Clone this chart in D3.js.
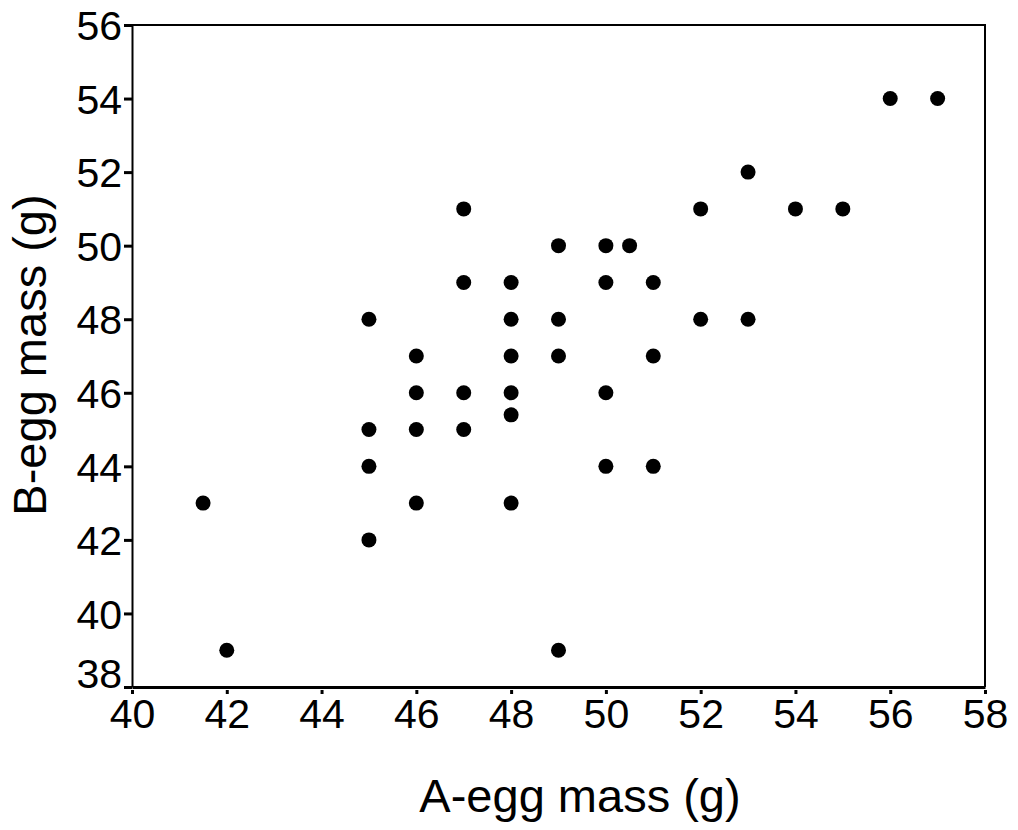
<!DOCTYPE html>
<html>
<head>
<meta charset="utf-8">
<script src="https://cdn.jsdelivr.net/npm/d3@7"></script>
<style>
  body { margin: 0; background: #fff; }
  text { font-family: "Liberation Sans", Arial, sans-serif; fill: #000; }
</style>
</head>
<body>
<div class="container"></div>
<script>
// data
const aMass = [41.5, 42, 45, 45, 45, 45, 46, 46, 46, 46,
               47, 47, 47, 47, 48, 48, 48, 48, 48, 48,
               49, 49, 49, 49, 50, 50, 50, 50, 50.5, 51,
               51, 51, 52, 52, 53, 53, 54, 55, 56, 57];
const bMass = [43, 39, 48, 45, 44, 42, 47, 46, 45, 43,
               51, 49, 46, 45, 49, 48, 47, 46, 45.4, 43,
               50, 48, 47, 39, 50, 49, 46, 44, 50, 49,
               47, 44, 51, 48, 52, 48, 51, 51, 54, 54];
const xTicks = [40, 42, 44, 46, 48, 50, 52, 54, 56, 58];
const yTicks = [38, 40, 42, 44, 46, 48, 50, 52, 54, 56];

const w = 1018, h = 830;
const plot = {left: 132, right: 985, top: 25, bottom: 687};

const svg = d3.select('.container')
              .append('svg')
              .attr('width', w)
              .attr('height', h);

const x = d3.scaleLinear().domain([40, 58]).range([plot.left, plot.right]);
const y = d3.scaleLinear().domain([38, 56]).range([plot.bottom, plot.top]);

// frame (top + right)
svg.append('path')
   .attr('d', `M${plot.left},${plot.top}H${plot.right}V${plot.bottom}`)
   .attr('fill', 'none')
   .attr('stroke', '#000')
   .attr('stroke-width', 2);

// x axis
const xAxis = svg.append('g')
   .attr('transform', `translate(0,${plot.bottom})`)
   .call(d3.axisBottom(x).tickValues(xTicks).tickSize(7).tickPadding(5).tickSizeOuter(0));
xAxis.select('.domain').attr('stroke-width', 3);
xAxis.selectAll('.tick line').attr('stroke-width', 3).attr('y1', 3);
xAxis.selectAll('.tick text').style('font-size', '41px');

// y axis
const yAxis = svg.append('g')
   .attr('transform', `translate(${plot.left},0)`)
   .call(d3.axisLeft(y).tickValues(yTicks).tickSize(8).tickPadding(2).tickSizeOuter(0));
yAxis.select('.domain').attr('stroke-width', 2);
yAxis.selectAll('.tick line').attr('stroke-width', 3);
yAxis.selectAll('.tick text')
     .style('font-size', '41px')
     .attr('dy', '0.36em')
     // lowest label sits a bit higher so it clears the x labels
     .attr('y', (d) => d === 38 ? -14 : 0);

// points
svg.append('g')
   .selectAll('circle')
   .data(aMass)
   .enter()
   .append('circle')
   .attr('cx', (d) => x(d))
   .attr('cy', (d, i) => y(bMass[i]))
   .attr('r', 7.5)
   .attr('fill', '#000');

// axis titles
svg.append('text')
   .text('A-egg mass (g)')
   .attr('x', 580)
   .attr('y', 812)
   .attr('text-anchor', 'middle')
   .style('font-size', '47px');

svg.append('text')
   .text('B-egg mass (g)')
   .attr('text-anchor', 'middle')
   .style('font-size', '47px')
   .attr('transform', 'translate(46,355) rotate(-90)');
</script>
</body>
</html>
